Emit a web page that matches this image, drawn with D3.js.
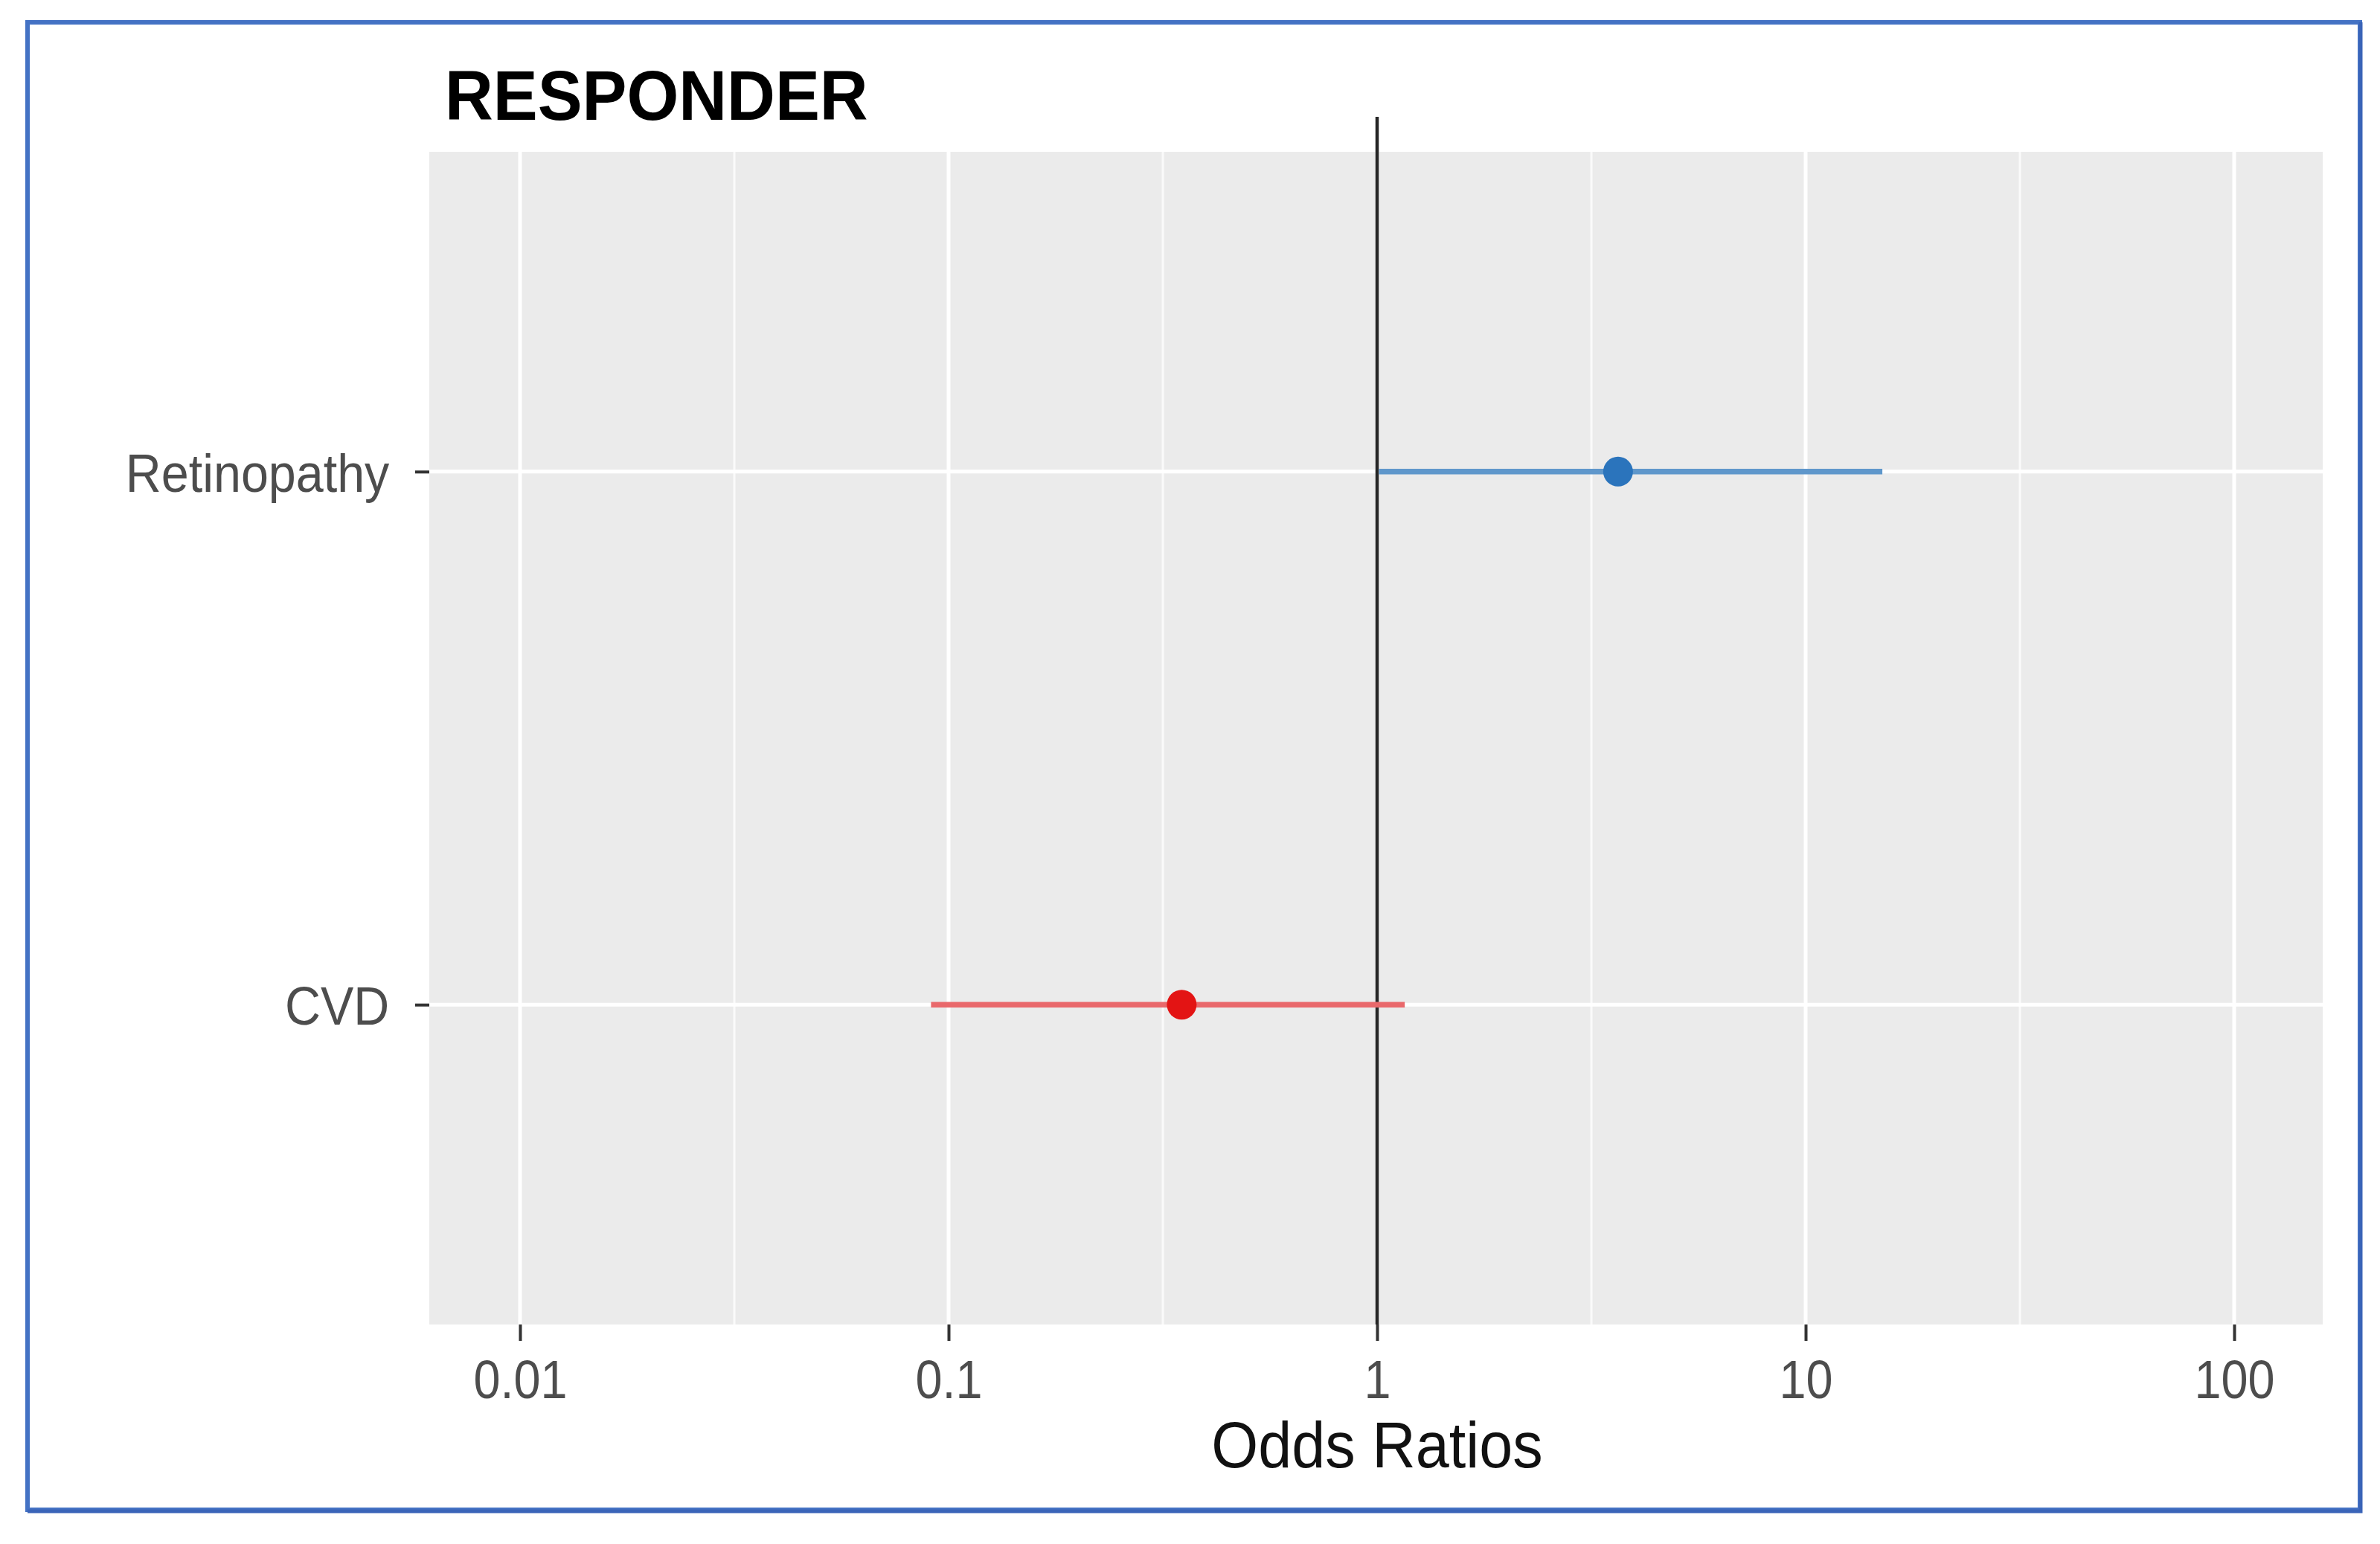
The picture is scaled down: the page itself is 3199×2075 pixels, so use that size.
<!DOCTYPE html>
<html>
<head>
<meta charset="utf-8">
<script src="https://cdn.jsdelivr.net/npm/d3@7"></script>
<style>
  html, body { margin: 0; padding: 0; background: #ffffff; }
  svg { display: block; }
  text { font-family: "Liberation Sans", Arial, sans-serif; }
</style>
</head>
<body>
<script>
// ---- data ----
const title = "RESPONDER";
const xAxisTitle = "Odds Ratios";
const categories = ["Retinopathy", "CVD"];
const oddsRatios = [3.65, 0.35];
const ciLower = [1.01, 0.091];
const ciUpper = [15.1, 1.16];
const pointColors = ["#2b74bc", "#e31414"];
const lineColors = ["#5f97cb", "#e9686b"];
const xTicks = [0.01, 0.1, 1, 10, 100];
const xTickLabels = ["0.01", "0.1", "1", "10", "100"];
const xMinorTicks = [0.0316228, 0.316228, 3.16228, 31.6228];
const refValue = 1;

// ---- layout ----
const W = 3199, H = 2075;
const panel = { left: 577, right: 3122, top: 204, bottom: 1780 };

const svg = d3.select("body").append("svg")
  .attr("width", W).attr("height", H);

svg.append("rect").attr("width", W).attr("height", H).attr("fill", "#ffffff");

// outer blue frame
svg.append("rect")
  .attr("x", 37).attr("y", 30).attr("width", 3135).attr("height", 1999)
  .attr("fill", "none").attr("stroke", "#4472c4").attr("stroke-width", 6);
svg.append("path")
  .attr("d", `M3173,30 V2031 H37`)
  .attr("fill", "none").attr("stroke", "#3a64b8").attr("stroke-width", 5);

// scales
const x = d3.scaleLog()
  .domain([Math.pow(10, -2.2118), Math.pow(10, 2.2066)])
  .range([panel.left, panel.right]);
const y = d3.scalePoint()
  .domain(categories)
  .range([panel.top, panel.bottom])
  .padding(0.6);

// panel background
svg.append("rect")
  .attr("x", panel.left).attr("y", panel.top)
  .attr("width", panel.right - panel.left).attr("height", panel.bottom - panel.top)
  .attr("fill", "#ebebeb");

// grid lines
const grid = svg.append("g");
grid.selectAll("line.minor").data(xMinorTicks).join("line")
  .attr("class", "minor")
  .attr("x1", d => x(d)).attr("x2", d => x(d))
  .attr("y1", panel.top).attr("y2", panel.bottom)
  .attr("stroke", "#fafafa").attr("stroke-width", 3);
grid.selectAll("line.majorx").data(xTicks).join("line")
  .attr("class", "majorx")
  .attr("x1", d => x(d)).attr("x2", d => x(d))
  .attr("y1", panel.top).attr("y2", panel.bottom)
  .attr("stroke", "#ffffff").attr("stroke-width", 5);
grid.selectAll("line.majory").data(categories).join("line")
  .attr("class", "majory")
  .attr("x1", panel.left).attr("x2", panel.right)
  .attr("y1", d => y(d)).attr("y2", d => y(d))
  .attr("stroke", "#ffffff").attr("stroke-width", 5);

// x axis
const xAxis = d3.axisBottom(x)
  .tickValues(xTicks)
  .tickFormat((d, i) => xTickLabels[i])
  .tickSize(22).tickPadding(26);
const gx = svg.append("g")
  .attr("transform", `translate(0,${panel.bottom})`)
  .call(xAxis);
gx.select(".domain").remove();
gx.selectAll(".tick line").attr("stroke", "#333333").attr("stroke-width", 4);
gx.selectAll(".tick text")
  .attr("fill", "#4d4d4d")
  .style("font-size", "72px")
  .attr("dy", "0.71em")
  .attr("transform", "scale(0.9,1)");

// y axis
const yAxis = d3.axisLeft(y).tickSize(19).tickPadding(40);
const gy = svg.append("g")
  .attr("transform", `translate(${panel.left},0)`)
  .call(yAxis);
gy.select(".domain").remove();
gy.selectAll(".tick line").attr("stroke", "#333333").attr("stroke-width", 4);
gy.selectAll(".tick text")
  .attr("fill", "#4d4d4d")
  .style("font-size", "73px")
  .attr("dy", "0.36em")
  .attr("transform", "scale(0.91,1)");

// reference line
svg.append("line")
  .attr("x1", x(refValue)).attr("x2", x(refValue))
  .attr("y1", 157).attr("y2", panel.bottom)
  .attr("stroke", "#262626").attr("stroke-width", 4.5);

// confidence intervals
const rows = categories.map((c, i) => ({
  cat: c, or: oddsRatios[i], lo: ciLower[i], hi: ciUpper[i],
  pc: pointColors[i], lc: lineColors[i]
}));
svg.append("g").selectAll("line").data(rows).join("line")
  .attr("x1", d => x(d.lo)).attr("x2", d => x(d.hi))
  .attr("y1", d => y(d.cat)).attr("y2", d => y(d.cat))
  .attr("stroke", d => d.lc).attr("stroke-width", 7.5);

// points
svg.append("g").selectAll("circle").data(rows).join("circle")
  .attr("cx", d => x(d.or)).attr("cy", d => y(d.cat))
  .attr("r", 20)
  .attr("fill", d => d.pc);

// axis title
svg.append("text")
  .attr("transform", `translate(${x(refValue)},1972) scale(0.92,1)`)
  .attr("text-anchor", "middle")
  .attr("fill", "#111111")
  .style("font-size", "88px")
  .text(xAxisTitle);

// plot title
svg.append("text")
  .attr("transform", "translate(598,161) scale(0.945,1)")
  .attr("fill", "#000000")
  .style("font-size", "95px").style("font-weight", "bold")
  .text(title);
</script>
</body>
</html>
